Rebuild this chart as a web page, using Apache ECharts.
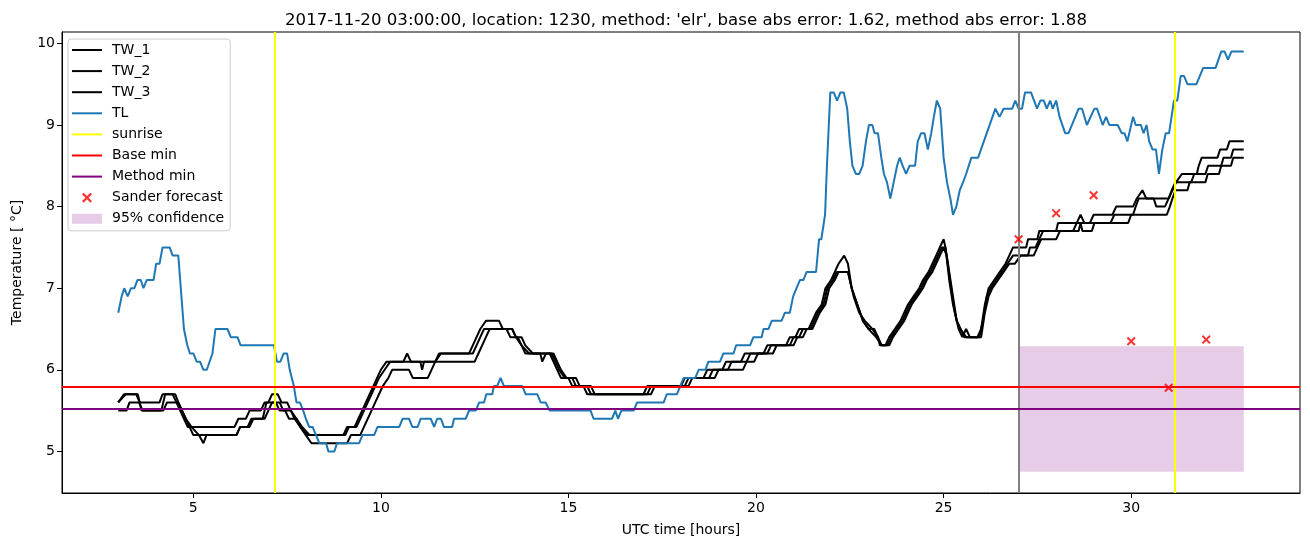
<!DOCTYPE html>
<html>
<head>
<meta charset="utf-8">
<script src="https://cdn.jsdelivr.net/npm/echarts@6/dist/echarts.min.js"></script>
<style>
html,body{margin:0;padding:0;background:#fff;}
#chart{width:1310px;height:547px;}
</style>
</head>
<body>
<div id="chart"></div>
<script>
// ---------------- data ----------------
const titleText = "2017-11-20 03:00:00, location: 1230, method: 'elr', base abs error: 1.62, method abs error: 1.88";
const xTicks = [5, 10, 15, 20, 25, 30];
const yTicks = [5, 6, 7, 8, 9, 10];

// [hour, temperature] vertices
const tw1 = [[3.0,5.6],[3.15,5.7],[3.48,5.7],[3.57,5.6],[4.1,5.6],[4.18,5.7],[4.45,5.7],[4.55,5.6],[4.65,5.5],[4.75,5.4],[4.85,5.3],[6.1,5.3],[6.2,5.4],[6.4,5.4],[6.5,5.5],[6.8,5.5],[6.9,5.6],[7.0,5.6],[7.1,5.7],[7.25,5.7],[7.35,5.6],[7.5,5.6],[7.6,5.5],[7.75,5.4],[7.9,5.3],[8.1,5.2],[9.0,5.2],[9.1,5.3],[9.3,5.3],[9.4,5.4],[9.5,5.5],[9.6,5.6],[9.7,5.7],[9.8,5.8],[9.9,5.9],[10.0,6.0],[10.15,6.1],[10.6,6.1],[10.7,6.2],[10.8,6.1],[11.45,6.1],[11.55,6.2],[12.35,6.2],[12.45,6.3],[12.55,6.4],[12.65,6.5],[12.8,6.6],[13.15,6.6],[13.25,6.5],[13.5,6.5],[13.6,6.4],[13.75,6.3],[13.85,6.2],[14.5,6.2],[14.6,6.1],[14.7,6.0],[14.8,5.9],[15.0,5.9],[15.1,5.8],[15.4,5.8],[15.5,5.7],[17.0,5.7],[17.1,5.8],[18.0,5.8],[18.1,5.9],[18.6,5.9],[18.7,6.0],[19.1,6.0],[19.2,6.1],[19.6,6.1],[19.7,6.2],[20.2,6.2],[20.3,6.3],[20.8,6.3],[20.9,6.4],[21.05,6.4],[21.15,6.5],[21.4,6.5],[21.5,6.6],[21.6,6.7],[21.75,6.8],[21.85,7.0],[22.0,7.1],[22.1,7.2],[22.2,7.3],[22.35,7.4],[22.45,7.3],[22.55,7.0],[22.7,6.8],[22.85,6.6],[23.0,6.5],[23.15,6.5],[23.25,6.4],[23.3,6.3],[23.45,6.3],[23.55,6.4],[23.7,6.5],[23.85,6.6],[23.95,6.7],[24.05,6.8],[24.2,6.9],[24.35,7.0],[24.45,7.1],[24.6,7.2],[24.7,7.3],[24.8,7.4],[24.9,7.5],[25.0,7.6],[25.05,7.5],[25.15,7.1],[25.25,6.8],[25.35,6.6],[25.45,6.5],[25.55,6.4],[25.9,6.4],[26.0,6.5],[26.1,6.8],[26.2,7.0],[26.35,7.1],[26.5,7.2],[26.65,7.3],[26.75,7.4],[26.85,7.5],[27.2,7.5],[27.25,7.6],[27.5,7.6],[27.55,7.7],[28.0,7.7],[28.05,7.8],[28.55,7.8],[28.65,7.9],[28.75,7.8],[28.9,7.8],[29.0,7.9],[29.5,7.9],[29.6,8.0],[30.05,8.0],[30.15,8.1],[30.3,8.2],[30.4,8.1],[30.6,8.1],[30.67,8.0],[30.9,8.0],[31.0,8.1],[31.1,8.2],[31.2,8.3],[31.35,8.4],[31.75,8.4],[31.8,8.5],[31.88,8.6],[32.3,8.6],[32.37,8.7],[32.55,8.7],[32.62,8.8],[33.0,8.8]];

const tw2 = [[3.0,5.6],[3.2,5.7],[3.52,5.7],[3.62,5.5],[4.15,5.5],[4.25,5.7],[4.52,5.7],[4.6,5.6],[4.7,5.5],[4.8,5.4],[4.9,5.3],[5.0,5.2],[6.15,5.2],[6.25,5.3],[6.45,5.3],[6.55,5.4],[6.85,5.4],[6.95,5.6],[7.3,5.6],[7.4,5.5],[7.6,5.5],[7.7,5.4],[7.85,5.3],[8.05,5.2],[9.05,5.2],[9.15,5.3],[9.35,5.3],[9.45,5.4],[9.55,5.5],[9.65,5.6],[9.75,5.7],[9.85,5.8],[9.95,5.9],[10.1,6.0],[10.25,6.1],[11.05,6.1],[11.1,6.0],[11.15,6.1],[11.45,6.1],[11.6,6.2],[12.45,6.2],[12.55,6.3],[12.65,6.4],[12.75,6.5],[13.35,6.5],[13.45,6.4],[13.65,6.4],[13.75,6.3],[13.95,6.2],[14.25,6.2],[14.3,6.1],[14.4,6.2],[14.55,6.2],[14.65,6.1],[14.75,6.0],[14.9,5.9],[15.1,5.9],[15.2,5.8],[15.5,5.8],[15.6,5.7],[17.1,5.7],[17.2,5.8],[18.1,5.8],[18.2,5.9],[18.75,5.9],[18.85,6.0],[19.25,6.0],[19.35,6.1],[19.75,6.1],[19.85,6.2],[20.3,6.2],[20.4,6.3],[20.9,6.3],[21.0,6.4],[21.15,6.4],[21.25,6.5],[21.45,6.5],[21.55,6.6],[21.65,6.7],[21.8,6.8],[21.9,7.0],[22.05,7.1],[22.15,7.2],[22.45,7.2],[22.55,7.0],[22.7,6.8],[22.85,6.6],[23.0,6.5],[23.2,6.4],[23.35,6.3],[23.5,6.3],[23.6,6.4],[23.75,6.5],[23.9,6.6],[24.0,6.7],[24.1,6.8],[24.25,6.9],[24.4,7.0],[24.5,7.1],[24.65,7.2],[24.75,7.3],[24.85,7.4],[24.95,7.5],[25.05,7.5],[25.15,7.2],[25.25,6.9],[25.35,6.6],[25.45,6.5],[25.6,6.4],[25.95,6.4],[26.05,6.6],[26.15,6.9],[26.25,7.0],[26.4,7.1],[26.55,7.2],[26.7,7.3],[26.85,7.4],[27.25,7.4],[27.3,7.5],[27.45,7.5],[27.55,7.6],[27.65,7.7],[28.45,7.7],[28.55,7.8],[29.45,7.8],[29.55,7.9],[30.05,7.9],[30.12,8.0],[30.2,8.1],[31.0,8.1],[31.08,8.2],[31.18,8.3],[31.6,8.3],[31.68,8.4],[31.98,8.4],[32.05,8.5],[32.4,8.5],[32.46,8.6],[32.66,8.6],[32.72,8.7],[33.0,8.7]];

const tw3 = [[3.0,5.5],[3.22,5.5],[3.3,5.6],[3.55,5.6],[3.65,5.5],[4.2,5.5],[4.3,5.6],[4.6,5.6],[4.7,5.5],[4.8,5.4],[4.95,5.3],[5.15,5.2],[5.27,5.1],[5.35,5.2],[6.15,5.2],[6.25,5.3],[6.5,5.3],[6.6,5.4],[6.9,5.4],[7.0,5.5],[7.1,5.6],[7.2,5.6],[7.3,5.5],[7.45,5.5],[7.55,5.4],[7.75,5.4],[7.85,5.3],[8.0,5.2],[8.15,5.1],[9.1,5.1],[9.2,5.2],[9.45,5.2],[9.55,5.3],[9.65,5.4],[9.75,5.5],[9.85,5.6],[9.95,5.7],[10.05,5.8],[10.2,5.9],[10.3,6.0],[10.75,6.0],[10.85,5.9],[11.25,5.9],[11.35,6.0],[11.45,6.1],[12.5,6.1],[12.6,6.2],[12.7,6.3],[12.8,6.4],[12.9,6.5],[13.5,6.5],[13.6,6.4],[13.75,6.4],[13.85,6.3],[14.05,6.2],[14.6,6.2],[14.7,6.1],[14.8,6.0],[14.95,5.9],[15.2,5.9],[15.3,5.8],[15.6,5.8],[15.7,5.7],[17.2,5.7],[17.3,5.8],[18.2,5.8],[18.3,5.9],[18.9,5.9],[19.0,6.0],[19.65,6.0],[19.75,6.1],[19.95,6.1],[20.05,6.2],[20.45,6.2],[20.55,6.3],[21.0,6.3],[21.1,6.4],[21.25,6.4],[21.35,6.5],[21.5,6.5],[21.6,6.6],[21.7,6.7],[21.85,6.8],[21.95,7.0],[22.1,7.1],[22.2,7.2],[22.45,7.2],[22.6,6.9],[22.75,6.7],[22.9,6.6],[23.1,6.5],[23.25,6.4],[23.35,6.3],[23.55,6.3],[23.65,6.4],[23.8,6.5],[23.95,6.6],[24.05,6.7],[24.15,6.8],[24.3,6.9],[24.45,7.0],[24.55,7.1],[24.7,7.2],[24.8,7.3],[24.9,7.4],[25.0,7.5],[25.08,7.4],[25.2,7.0],[25.3,6.7],[25.4,6.5],[25.5,6.4],[25.6,6.5],[25.7,6.4],[26.0,6.4],[26.1,6.7],[26.2,6.9],[26.3,7.0],[26.45,7.1],[26.6,7.2],[26.75,7.3],[26.9,7.3],[27.05,7.4],[27.4,7.4],[27.5,7.5],[27.6,7.6],[28.0,7.6],[28.1,7.7],[28.6,7.7],[28.65,7.8],[28.7,7.7],[28.95,7.7],[29.02,7.8],[29.92,7.8],[30.0,7.9],[30.95,7.9],[31.03,8.0],[31.1,8.1],[31.18,8.2],[31.5,8.2],[31.56,8.3],[31.98,8.3],[32.04,8.4],[32.34,8.4],[32.4,8.5],[32.66,8.5],[32.72,8.6],[33.0,8.6]];

const tl = [[3.0,6.7],[3.09,6.9],[3.16,7.0],[3.25,6.9],[3.34,7.0],[3.43,7.0],[3.51,7.1],[3.6,7.1],[3.67,7.0],[3.76,7.1],[3.94,7.1],[4.01,7.3],[4.1,7.3],[4.18,7.5],[4.37,7.5],[4.45,7.4],[4.6,7.4],[4.65,7.1],[4.75,6.5],[4.84,6.3],[4.91,6.2],[5.0,6.2],[5.09,6.1],[5.18,6.1],[5.27,6.0],[5.36,6.0],[5.51,6.2],[5.59,6.5],[5.91,6.5],[6.0,6.4],[6.18,6.4],[6.26,6.3],[7.15,6.3],[7.23,6.1],[7.32,6.1],[7.41,6.2],[7.5,6.2],[7.57,6.0],[7.68,5.8],[7.75,5.6],[7.84,5.6],[7.93,5.5],[8.0,5.4],[8.09,5.3],[8.18,5.3],[8.27,5.2],[8.36,5.1],[8.54,5.1],[8.6,5.0],[8.76,5.0],[8.83,5.1],[9.42,5.1],[9.51,5.2],[9.82,5.2],[9.91,5.3],[10.49,5.3],[10.58,5.4],[10.75,5.4],[10.84,5.3],[10.98,5.3],[11.06,5.4],[11.33,5.4],[11.42,5.3],[11.5,5.4],[11.6,5.4],[11.68,5.3],[11.9,5.3],[11.95,5.4],[12.26,5.4],[12.35,5.5],[12.53,5.5],[12.62,5.6],[12.75,5.6],[12.81,5.7],[12.97,5.7],[13.01,5.8],[13.1,5.8],[13.19,5.9],[13.28,5.8],[13.77,5.8],[13.86,5.7],[14.17,5.7],[14.26,5.6],[14.39,5.6],[14.5,5.5],[15.59,5.5],[15.67,5.4],[16.16,5.4],[16.25,5.5],[16.32,5.4],[16.41,5.5],[16.74,5.5],[16.83,5.6],[17.54,5.6],[17.62,5.7],[17.89,5.7],[17.98,5.8],[18.07,5.9],[18.38,5.9],[18.47,6.0],[18.65,6.0],[18.73,6.1],[19.04,6.1],[19.13,6.2],[19.4,6.2],[19.47,6.3],[19.84,6.3],[19.93,6.4],[20.15,6.4],[20.2,6.5],[20.33,6.5],[20.42,6.6],[20.68,6.6],[20.77,6.7],[20.9,6.7],[20.99,6.9],[21.08,7.0],[21.17,7.1],[21.26,7.1],[21.35,7.2],[21.6,7.2],[21.68,7.6],[21.74,7.6],[21.84,7.9],[21.89,8.5],[21.98,9.4],[22.07,9.4],[22.16,9.3],[22.25,9.4],[22.34,9.4],[22.43,9.2],[22.5,8.8],[22.57,8.5],[22.66,8.4],[22.75,8.4],[22.84,8.5],[22.93,8.8],[23.01,9.0],[23.1,9.0],[23.16,8.9],[23.25,8.9],[23.34,8.6],[23.41,8.4],[23.49,8.3],[23.58,8.1],[23.67,8.3],[23.76,8.5],[23.83,8.6],[23.91,8.5],[24.0,8.4],[24.09,8.5],[24.24,8.5],[24.31,8.8],[24.4,8.9],[24.49,8.9],[24.58,8.7],[24.67,8.9],[24.74,9.1],[24.82,9.3],[24.91,9.2],[25.0,8.6],[25.09,8.3],[25.18,8.1],[25.25,7.9],[25.34,8.0],[25.43,8.2],[25.52,8.3],[25.6,8.4],[25.74,8.6],[25.92,8.6],[26.38,9.2],[26.49,9.1],[26.6,9.2],[26.83,9.2],[26.91,9.3],[27.0,9.2],[27.09,9.2],[27.17,9.4],[27.33,9.4],[27.49,9.2],[27.58,9.3],[27.67,9.3],[27.75,9.2],[27.84,9.3],[27.91,9.2],[28.0,9.3],[28.09,9.1],[28.24,8.9],[28.33,8.9],[28.6,9.2],[28.69,9.2],[28.82,9.0],[29.02,9.2],[29.09,9.2],[29.24,9.0],[29.33,9.1],[29.42,9.0],[29.64,9.0],[29.75,8.9],[29.82,8.9],[29.9,8.8],[30.05,9.1],[30.12,9.0],[30.26,9.0],[30.33,8.9],[30.41,9.0],[30.48,8.8],[30.57,8.7],[30.66,8.7],[30.74,8.4],[30.83,8.7],[30.92,8.9],[31.01,8.9],[31.14,9.3],[31.23,9.3],[31.32,9.6],[31.41,9.6],[31.5,9.5],[31.74,9.5],[31.92,9.7],[32.25,9.7],[32.4,9.9],[32.49,9.9],[32.58,9.8],[32.67,9.9],[33.0,9.9]];

const sunriseHours = [7.17, 31.17];
const baseMin = 5.79;
const methodMin = 5.52;
const forecastTime = 27.0;
const sanderHours = [27, 28, 29, 30, 31, 32];
const sanderValues = [7.60, 7.92, 8.14, 6.35, 5.78, 6.37];
const confHours = [27.0, 33.0];
const confBounds = [4.75, 6.29];

// ---------------- chart ----------------
const FONT = 'DejaVu Sans';
const X_PATH = 'path://M0,1.6 L1.6,0 L5,3.4 L8.4,0 L10,1.6 L6.6,5 L10,8.4 L8.4,10 L5,6.6 L1.6,10 L0,8.4 L3.4,5 Z';
const LINE_ICON = 'path://M0,0 L30,0 L30,2 L0,2 Z';
const chart = echarts.init(document.getElementById('chart'), null, {renderer: 'canvas'});

function lineSeries(name, data, color) {
  return {
    name, type: 'line', data, symbol: 'none', showSymbol: false,
    lineStyle: {color, width: 2}, itemStyle: {color},
    animation: false, silent: true, z: 3
  };
}
function markOnly(name, color, markData, width) {
  return {
    name, type: 'line', data: [], symbol: 'none',
    lineStyle: {color, width: width}, itemStyle: {color},
    animation: false, silent: true, z: 4,
    markLine: {
      symbol: 'none', silent: true, animation: false,
      label: {show: false},
      lineStyle: {color, width: width, type: 'solid'},
      emphasis: {disabled: true},
      data: markData
    }
  };
}

const option = {
  backgroundColor: '#fff',
  animation: false,
  title: {
    text: titleText, left: 681, top: 7, textAlign: 'center',
    textStyle: {fontFamily: FONT, fontSize: 16.6, fontWeight: 'normal', color: '#000'}
  },
  grid: {left: 62, right: 10, top: 32, bottom: 54, show: true, borderColor: '#000', borderWidth: 1, backgroundColor: 'transparent'},
  legend: {
    orient: 'vertical', left: 68, top: 39,
    padding: [4, 6, 5, 4], itemGap: 7.1, itemWidth: 30, itemHeight: 10,
    backgroundColor: 'rgba(255,255,255,0.8)', borderColor: '#cccccc', borderWidth: 1, borderRadius: 3,
    textStyle: {fontFamily: FONT, fontSize: 14, color: '#000', lineHeight: 14, padding: [0,0,0,5]},
    data: [
      {name: 'TW_1', icon: LINE_ICON}, {name: 'TW_2', icon: LINE_ICON}, {name: 'TW_3', icon: LINE_ICON},
      {name: 'TL', icon: LINE_ICON}, {name: 'sunrise', icon: LINE_ICON},
      {name: 'Base min', icon: LINE_ICON}, {name: 'Method min', icon: LINE_ICON},
      {name: 'Sander forecast', icon: X_PATH},
      {name: '95% confidence', icon: 'rect', itemStyle: {color: 'rgba(128,0,128,0.2)'}}
    ],
    selectedMode: false, z: 10
  },
  xAxis: {
    type: 'value', min: 1.5, max: 34.5,
    name: 'UTC time [hours]', nameLocation: 'middle', nameGap: 30,
    nameTextStyle: {fontFamily: FONT, fontSize: 14, color: '#000'},
    axisLine: {show: true, onZero: false, lineStyle: {color: '#000', width: 1}},
    axisTick: {show: true, length: 5, lineStyle: {color: '#000'}, customValues: xTicks},
    axisLabel: {fontFamily: FONT, fontSize: 14, color: '#000', margin: 8, customValues: xTicks},
    splitLine: {show: false}
  },
  yAxis: {
    type: 'value', min: 4.49, max: 10.14,
    name: 'Temperature [ °C]', nameLocation: 'middle', nameGap: 38, nameRotate: 90,
    nameTextStyle: {fontFamily: FONT, fontSize: 14, color: '#000'},
    axisLine: {show: true, onZero: false, lineStyle: {color: '#000', width: 1}},
    axisTick: {show: true, length: 5, lineStyle: {color: '#000'}, customValues: yTicks},
    axisLabel: {fontFamily: FONT, fontSize: 14, color: '#000', margin: 7, customValues: yTicks},
    splitLine: {show: false}
  },
  series: [
    {
      name: '95% confidence', type: 'line', data: [], symbol: 'none',
      itemStyle: {color: 'rgba(128,0,128,0.2)'}, lineStyle: {width: 0},
      animation: false, silent: true, z: 1,
      markArea: {
        silent: true, animation: false,
        itemStyle: {color: 'rgba(128,0,128,0.2)'},
        data: [[{xAxis: confHours[0], yAxis: confBounds[0]}, {xAxis: confHours[1], yAxis: confBounds[1]}]]
      },
      markLine: {
        symbol: 'none', silent: true, animation: false, label: {show: false},
        lineStyle: {color: '#808080', width: 2, type: 'solid'},
        data: [{xAxis: forecastTime}]
      }
    },
    lineSeries('TW_1', tw1, '#000000'),
    lineSeries('TW_2', tw2, '#000000'),
    lineSeries('TW_3', tw3, '#000000'),
    lineSeries('TL', tl, '#1f77b4'),
    markOnly('sunrise', '#ffff00', sunriseHours.map(h => ({xAxis: h})), 2),
    markOnly('Base min', '#ff0000', [{yAxis: baseMin}], 2),
    markOnly('Method min', '#800080', [{yAxis: methodMin}], 2),
    {
      name: 'Sander forecast', type: 'scatter',
      data: sanderHours.map((h, i) => [h, sanderValues[i]]),
      symbol: X_PATH, symbolSize: 9,
      itemStyle: {color: '#ff0000'}, animation: false, silent: true, z: 5
    }
  ]
};
chart.setOption(option);
</script>
</body>
</html>
